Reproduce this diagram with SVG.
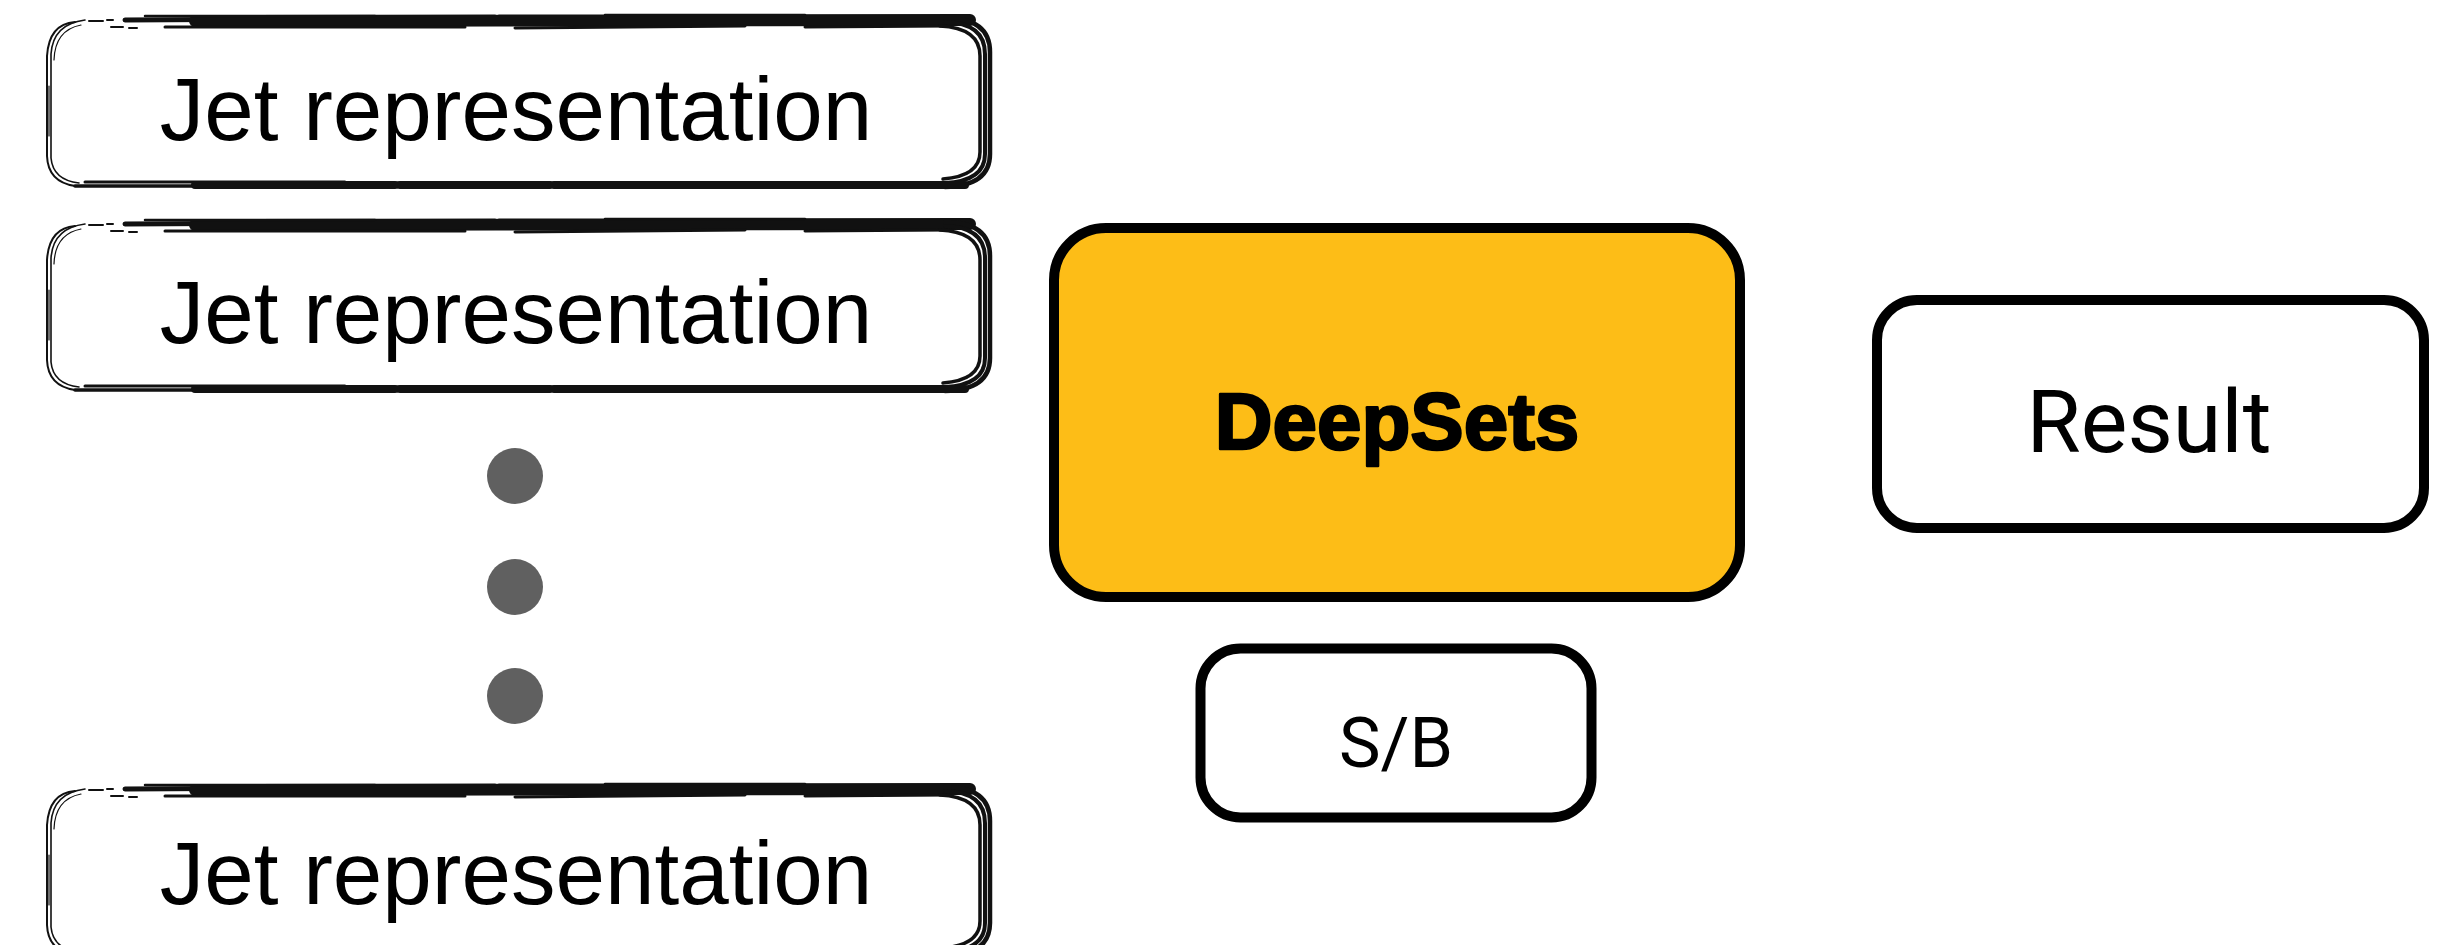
<svg xmlns="http://www.w3.org/2000/svg" xmlns:xlink="http://www.w3.org/1999/xlink" width="2453" height="945" viewBox="0 0 2453 945">
<style>
.rough{fill:none;stroke:#111;stroke-linecap:round;stroke-linejoin:round}
.jet{font-family:"Liberation Sans",Arial,sans-serif;font-size:89px;fill:#000;text-anchor:middle}
.box{fill:#fff;stroke:#000;stroke-width:10}
.lbl{font-family:Roboto,"Liberation Sans",sans-serif;fill:#000;text-anchor:middle}
.dot{fill:#606060}
</style>
<defs>
<g id="jetframe">
<rect x="0" y="0" width="945" height="171" rx="30" fill="#fff"/>
<!-- left side, thin doubled -->
<path class="rough" stroke-width="2" d="M30,6 Q4,8 2,40 V140 Q3,166 30,170"/>
<path class="rough" stroke-width="1.6" d="M40,4 Q8,8 6,38 V142 Q8,164 34,167"/>
<path class="rough" stroke-width="1.2" d="M36,9 Q10,14 9,44 M4,70 V120"/>
<!-- top-left fragments -->
<path class="rough" stroke-width="2" d="M44,5 H58 M62,4 H68 M66,11 H78 M84,12 H92"/>
<!-- top brush -->
<path class="rough" stroke-width="5" d="M80,4 L250,3"/>
<path class="rough" stroke-width="12" stroke-dasharray="300 4 180 3 600" d="M150,5 L925,4"/>
<path class="rough" stroke-width="3" d="M120,11 L420,11 M470,12 L700,10 M760,11 L905,10"/>
<path class="rough" stroke-width="2.5" d="M100,0 L330,0 M560,-1 L760,-1"/>
<!-- right side, thick multiple -->
<path class="rough" stroke-width="4.5" d="M900,2 Q945,2 945,36 V138 Q945,170 900,171"/>
<path class="rough" stroke-width="4" d="M900,6 Q940,7 940,38 V138 Q940,165 900,167"/>
<path class="rough" stroke-width="3.5" d="M895,10 Q935,12 935,40 V136 Q935,160 898,163"/>
<!-- bottom -->
<path class="rough" stroke-width="3.5" d="M30,170 H905"/>
<path class="rough" stroke-width="3" d="M40,166 H300 M340,167 H900"/>
<path class="rough" stroke-width="8" stroke-dasharray="200 5 150 4 900" d="M150,169 H920"/>
</g>
</defs>
<g id="connectors"></g>
<g id="jet1">
<use xlink:href="#jetframe" x="45" y="16"/>
<text class="jet" x="516" y="140">Jet representation</text>
</g>
<g id="jet2">
<use xlink:href="#jetframe" x="45" y="220"/>
<text class="jet" x="516" y="343">Jet representation</text>
</g>
<g id="dots">
<circle class="dot" cx="515" cy="476" r="28"/>
<circle class="dot" cx="515" cy="587" r="28"/>
<circle class="dot" cx="515" cy="696" r="28"/>
</g>
<g id="jet3">
<use xlink:href="#jetframe" x="45" y="785"/>
<text class="jet" x="516" y="904">Jet representation</text>
</g>
<g id="deepsets">
<rect x="1054" y="228" width="686" height="369" rx="52" fill="#FDBD17" stroke="#000" stroke-width="10"/>
<text x="1397" y="449" font-family="'Liberation Sans',Arial,sans-serif" font-weight="bold" font-size="80" text-anchor="middle" fill="#000" stroke="#000" stroke-width="2.5" stroke-linejoin="round">DeepSets</text>
</g>
<g id="result">
<rect class="box" x="1877" y="300" width="547" height="228" rx="40"/>
<text class="lbl" x="2149" y="452" font-size="88">Result</text>
</g>
<g id="sb">
<rect class="box" x="1200.5" y="648.5" width="391" height="169" rx="40" stroke-width="11"/>
<text class="lbl" x="1396" y="767" font-size="70">S/B</text>
</g>
</svg>
